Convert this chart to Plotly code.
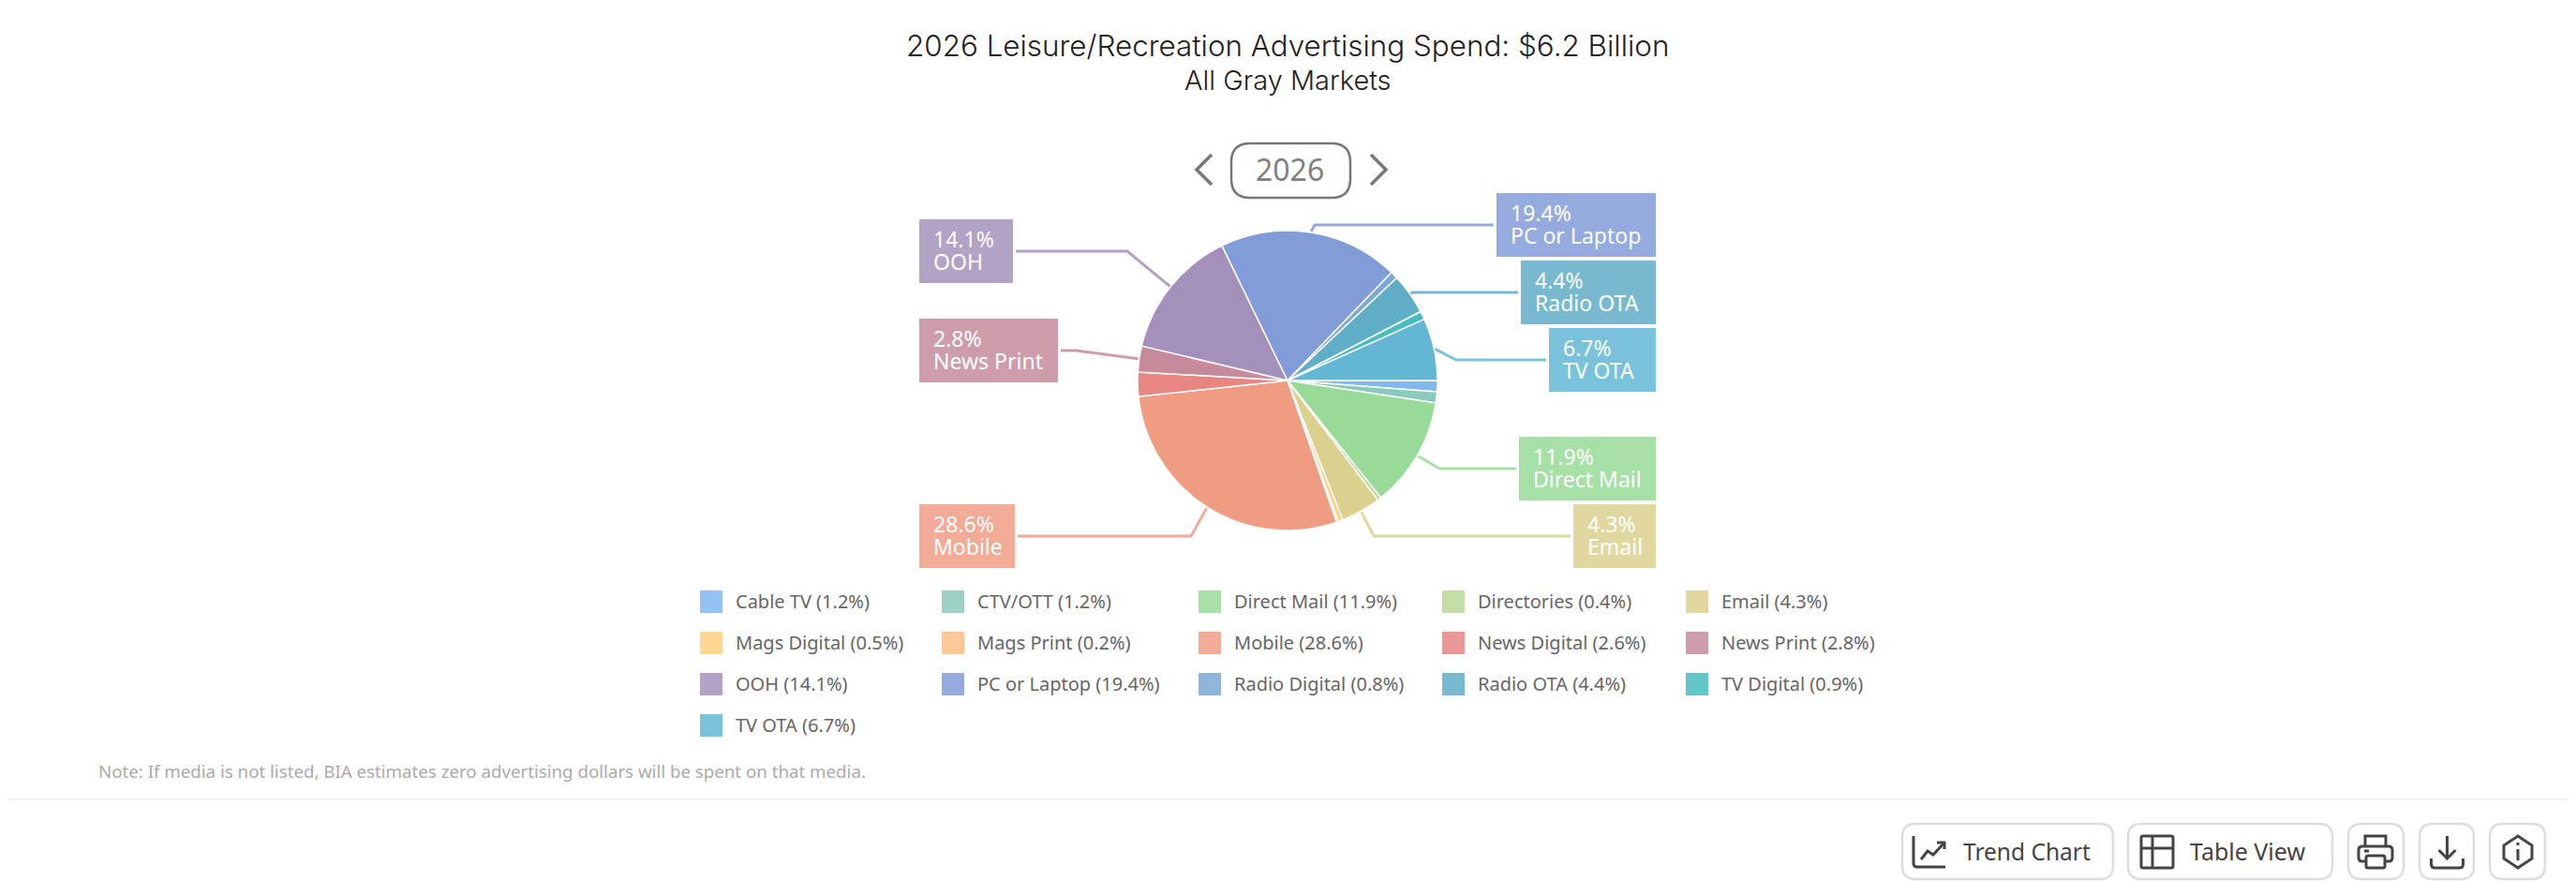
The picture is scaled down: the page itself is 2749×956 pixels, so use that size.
import math

import plotly.graph_objects as go

# the page keeps an 8px body margin, so the figure is smaller than the window
PAGE_MARGIN = 8
W, H = 2749 - 2 * PAGE_MARGIN, 956 - 2 * PAGE_MARGIN

# data
media = ["Cable TV", "CTV/OTT", "Direct Mail", "Directories", "Email", "Mags Digital",
         "Mags Print", "Mobile", "News Digital", "News Print", "OOH", "PC or Laptop",
         "Radio Digital", "Radio OTA", "TV Digital", "TV OTA"]
share = [1.2, 1.2, 11.9, 0.4, 4.3, 0.5, 0.2, 28.6, 2.6, 2.8, 14.1, 19.4, 0.8, 4.4, 0.9, 6.7]
colors = ["#80B9EE", "#8ACABC", "#98DB98", "#B8D898", "#DBD18F", "#FFD080", "#FFBC85", "#EF9C83",
          "#E98582", "#C68A9C", "#A491BB", "#829BD9", "#7CA8D4", "#60ADC7", "#47BDBF", "#63B7D5"]

title_text = "2026 Leisure/Recreation Advertising Spend: $6.2 Billion"
subtitle_text = "All Gray Markets"
year_text = "2026"
note_text = "Note: If media is not listed, BIA estimates zero advertising dollars will be spent on that media."

# pixel layout
cx, cy, r = 1374, 406, 160
# media: x0, x1, y0, y1, elbow x
callouts = {
    "PC or Laptop": (1597, 1767, 206, 274, 1403),
    "Radio OTA": (1623, 1767, 278, 346, 1508),
    "TV OTA": (1653, 1767, 350, 418, 1554),
    "Direct Mail": (1621, 1767, 466, 534, 1536),
    "Email": (1679, 1767, 538, 606, 1466),
    "Mobile": (981, 1083, 538, 606, 1271),
    "News Print": (981, 1129, 340, 408, 1148),
    "OOH": (981, 1081, 234, 302, 1203),
}
legend_cols = [747, 1005, 1279, 1539, 1799]
legend_rows = [642, 686, 730, 774]

BODY = "Noto Sans"
HEAD = "Inter"


def px(x):
    return (x - PAGE_MARGIN) / W


def py(y):
    return 1 - (y - PAGE_MARGIN) / H


def pth(s, dx=0):
    # svg path in pixels -> svg path in paper units
    out, is_x = [], True
    for tok in s.split():
        if tok.isalpha():
            out.append(tok)
        else:
            out.append(str(px(float(tok) + dx) if is_x else py(float(tok))))
            is_x = not is_x
    return " ".join(out)


def rounded(x0, y0, x1, y1, rad):
    return (f"M {x0 + rad} {y0} L {x1 - rad} {y0} Q {x1} {y0} {x1} {y0 + rad} "
            f"L {x1} {y1 - rad} Q {x1} {y1} {x1 - rad} {y1} L {x0 + rad} {y1} "
            f"Q {x0} {y1} {x0} {y1 - rad} L {x0} {y0 + rad} Q {x0} {y0} {x0 + rad} {y0} Z")


def tint(hex_color, a=0.85):
    rgb = [int(hex_color[i:i + 2], 16) for i in (1, 3, 5)]
    return "rgb({},{},{})".format(*[round(c * a + 255 * (1 - a)) for c in rgb])


def add_text(fig, x, y, text, size, color, anchor="left", family=BODY, weight=None):
    fig.add_annotation(xref="paper", yref="paper", x=px(x), y=py(y), text=text, showarrow=False,
                       xanchor=anchor, yanchor="middle", borderpad=0, borderwidth=0,
                       font=dict(family=family, size=size, color=color, weight=weight))


def add_path(fig, s, color="#444444", width=3, fill=None, dx=0):
    fig.add_shape(type="path", xref="paper", yref="paper", path=pth(s, dx),
                  line=dict(color=color, width=width), fillcolor=fill)


fig = go.Figure(go.Pie(
    labels=media, values=share, sort=False, direction="clockwise", rotation=90,
    textinfo="none", marker=dict(colors=colors, line=dict(color="white", width=1.5)),
    domain=dict(x=[px(cx - r), px(cx + r)], y=[py(cy + r), py(cy - r)]),
))

# titles
add_text(fig, 1374, 49, title_text, 31.4, "#222222", "center", HEAD, 300)
add_text(fig, 1374, 86, subtitle_text, 29, "#222222", "center", HEAD, 300)

# year picker
add_path(fig, rounded(1314, 153, 1441, 211, 20), "#777777", 2.5)
add_text(fig, 1377, 181, year_text, 32, "#808080", "center")
add_path(fig, "M 1293 165 L 1277 181 L 1293 197", "#777777", 3.5)
add_path(fig, "M 1463 165 L 1479 181 L 1463 197", "#777777", 3.5)

# callouts with leader lines
for name, (x0, x1, y0, y1, elbow) in callouts.items():
    i = media.index(name)
    color = tint(colors[i])
    mid = (sum(share[:i]) + share[i] / 2) / sum(share) * 2 * math.pi
    sx, sy = cx + (r + 1) * math.cos(mid), cy + (r + 1) * math.sin(mid)
    ymid = (y0 + y1) / 2
    end = x1 + 3 if x1 < cx else x0 - 3
    add_path(fig, f"M {sx} {sy} L {elbow} {ymid} L {end} {ymid}", color, 3)
    fig.add_shape(type="rect", xref="paper", yref="paper", x0=px(x0), x1=px(x1),
                  y0=py(y1), y1=py(y0), fillcolor=color, line_width=0)
    add_text(fig, x0 + 15, ymid - 13, f"{share[i]}%", 23, "white")
    add_text(fig, x0 + 15, ymid + 11, name, 23, "white")

# legend
for i, name in enumerate(media):
    row, col = divmod(i, len(legend_cols))
    x, y = legend_cols[col], legend_rows[row]
    fig.add_shape(type="rect", xref="paper", yref="paper", x0=px(x), x1=px(x + 24),
                  y0=py(y + 12), y1=py(y - 12), fillcolor=tint(colors[i]), line_width=0)
    add_text(fig, x + 38, y - 1, f"{name} ({share[i]}%)", 20, "#666666")

# note and divider
add_text(fig, 105, 822, note_text, 18.7, "#AAAAAA")
fig.add_shape(type="line", xref="paper", yref="paper", x0=px(9), x1=px(2740), y0=py(853), y1=py(853),
              line=dict(color="#F2F2F2", width=2))

# buttons
for x0, x1 in [(2030, 2255), (2271, 2489), (2506, 2565), (2582, 2640), (2657, 2716)]:
    add_path(fig, rounded(x0, 879, x1, 938, 14), "#DDDDDD", 2.5)
add_text(fig, 2095, 908, "Trend Chart", 24.5, "#444444")
add_text(fig, 2337, 908, "Table View", 25, "#444444")

# trend icon
add_path(fig, "M 2043 892 L 2043 921 Q 2043 925 2047 925 L 2077 925", dx=-1)
add_path(fig, "M 2051 917 L 2058 908 L 2064 912 L 2076 899", dx=-1)
add_path(fig, "M 2068 899 L 2076 899 L 2076 906", dx=-1)
# table icon
add_path(fig, rounded(2288, 892, 2322, 926, 2), dx=-3)
add_path(fig, "M 2288 905 L 2322 905", dx=-3)
add_path(fig, "M 2300 892 L 2300 926", dx=-3)
# print icon
add_path(fig, "M 2530 903 L 2530 892 L 2552 892 L 2552 903", dx=-6)
add_path(fig, rounded(2523, 903, 2559, 919, 4), dx=-6)
add_path(fig, rounded(2531, 913, 2551, 926, 2), fill="white", dx=-6)
add_path(fig, "M 2529 908 L 2534 908", dx=-6)
# download icon
add_path(fig, "M 2618 892 L 2618 916", dx=-6.5)
add_path(fig, "M 2609 907 L 2618 916 L 2627 907", dx=-6.5)
add_path(fig, "M 2601 916 L 2601 922 Q 2601 926 2605 926 L 2631 926 Q 2635 926 2635 922 L 2635 916", dx=-6.5)
# info icon
add_path(fig, "M 2695 892 L 2710 902 L 2710 916 L 2695 926 L 2680 916 L 2680 902 Z", dx=-8)
add_path(fig, "M 2695 899 L 2695 902", dx=-8)
add_path(fig, "M 2695 906 L 2695 918", dx=-8)

fig.update_layout(width=W, height=H, margin=dict(l=0, r=0, t=0, b=0), showlegend=False,
                  paper_bgcolor="white", plot_bgcolor="white")

fig.write_html("out.html")
